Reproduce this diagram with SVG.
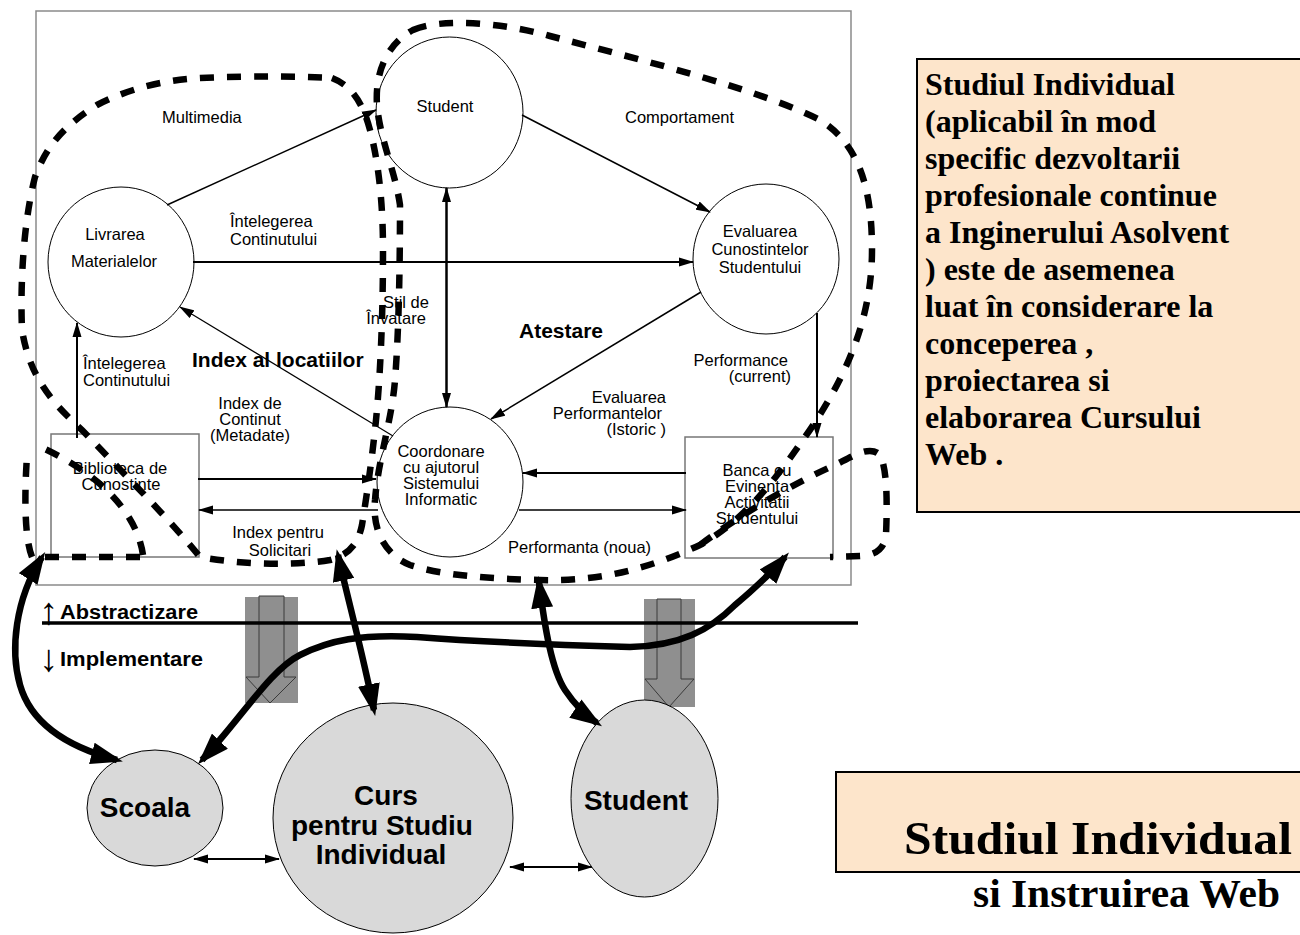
<svg xmlns="http://www.w3.org/2000/svg" width="1300" height="935" viewBox="0 0 1300 935">
<defs>
<marker id="a" markerUnits="userSpaceOnUse" markerWidth="15" markerHeight="10" refX="14" refY="5" orient="auto-start-reverse"><path d="M0,0.5 L15,5 L0,9.5 z" fill="#000"/></marker>
<marker id="A" markerUnits="userSpaceOnUse" markerWidth="32" markerHeight="22" refX="26" refY="11" orient="auto-start-reverse"><path d="M0,0 L32,11 L0,22 z" fill="#000"/></marker>
</defs>
<style>
.lbl{font-family:"Liberation Sans",Arial,sans-serif;font-size:16.5px;fill:#000}
.c{text-anchor:middle}
.r{text-anchor:end}
.b{font-weight:bold;font-size:21px}
.node{fill:#fff;stroke:#000;stroke-width:1}
.box{fill:none;stroke:#777;stroke-width:1.5}
.frame{fill:none;stroke:#8a8a8a;stroke-width:1.5}
.ln{stroke:#000;fill:none;marker-end:url(#a)}
.both{marker-start:url(#a)}
.dash{fill:none;stroke:#000;stroke-width:6.5;stroke-dasharray:14 13}
.thick{fill:none;stroke:#000;stroke-width:6.5;marker-start:url(#A);marker-end:url(#A)}
.gray{fill:#8f8f8f}
.garrow{fill:#8f8f8f;stroke:#3a3a3a;stroke-width:1}
.bn{fill:#d9d9d9;stroke:#000;stroke-width:1}
.bt{font-family:"Liberation Sans",Arial,sans-serif;font-weight:bold;font-size:28px;text-anchor:middle;fill:#000}
.note{fill:#fde5cb;stroke:#000;stroke-width:2}
.serif{font-family:"Liberation Serif","Times New Roman",serif;font-weight:bold;fill:#000}
.arr{font-family:"Liberation Sans",Arial,sans-serif;font-size:38px;fill:#000}
.lay{font-family:"Liberation Sans",Arial,sans-serif;font-weight:bold;font-size:20px;fill:#000}
</style>

<rect class="frame" x="36" y="11" width="815" height="574"/>

<g id="student">
<ellipse class="node" cx="449.5" cy="112.5" rx="73.5" ry="75.5"/>
<text class="lbl c" x="445" y="112">Student</text>
</g>
<g id="livrarea">
<ellipse class="node" cx="121" cy="262" rx="73" ry="75"/>
<text class="lbl c" x="115" y="240">Livrarea</text>
<text class="lbl c" x="114" y="267">Materialelor</text>
</g>
<g id="evaluarea">
<ellipse class="node" cx="766" cy="259" rx="73" ry="75"/>
<text class="lbl c" x="760" y="237">Evaluarea</text>
<text class="lbl c" x="760" y="255">Cunostintelor</text>
<text class="lbl c" x="760" y="273">Studentului</text>
</g>
<g id="coordonare">
<ellipse class="node" cx="450" cy="482" rx="73" ry="75"/>
<text class="lbl c" x="441" y="457">Coordonare</text>
<text class="lbl c" x="441" y="473">cu ajutorul</text>
<text class="lbl c" x="441" y="489">Sistemului</text>
<text class="lbl c" x="441" y="505">Informatic</text>
</g>
<g id="biblioteca">
<rect class="box" x="51" y="434" width="148" height="123"/>
<text class="lbl c" x="120" y="474">Biblioteca de</text>
<text class="lbl c" x="121" y="490">Cunostinte</text>
</g>
<g id="banca">
<rect class="box" x="685" y="437" width="148" height="121"/>
<text class="lbl c" x="757" y="476">Banca cu</text>
<text class="lbl c" x="757" y="492">Evinenta</text>
<text class="lbl c" x="757" y="508">Activitatii</text>
<text class="lbl c" x="757" y="524">Studentului</text>
</g>

<g id="connectors">
<path class="ln" stroke-width="1.5" d="M167,205 L376,110"/>
<path class="ln" stroke-width="1.5" d="M522,115 L710,212"/>
<path class="ln" stroke-width="2" d="M193,262 L693,262"/>
<path class="ln both" stroke-width="2.5" d="M446.5,188 L446.5,407"/>
<path class="ln" stroke-width="1.5" d="M701,292 L491,419"/>
<path class="ln" stroke-width="1.2" d="M393,436 L180,307"/>
<path class="ln" stroke-width="2" d="M77,438 L77,323"/>
<path class="ln" stroke-width="2" d="M198,479 L376,479"/>
<path class="ln" stroke-width="1.5" d="M378,510 L199,510"/>
<path class="ln" stroke-width="2" d="M686,473 L523,473"/>
<path class="ln" stroke-width="1.5" d="M519,510 L686,510"/>
<path class="ln" stroke-width="2" d="M817,313 L817,437"/>
<path class="ln both" stroke-width="2" d="M194,859 L279,859"/>
<path class="ln both" stroke-width="2" d="M510,867 L592,867"/>
</g>

<g id="labels">
<text class="lbl" x="162" y="123">Multimedia</text>
<text class="lbl" x="625" y="123">Comportament</text>
<text class="lbl" x="230" y="227">Întelegerea</text>
<text class="lbl" x="230" y="245">Continutului</text>
<text class="lbl c" x="406" y="308">Stil de</text>
<text class="lbl c" x="396" y="324">Învatare</text>
<text class="lbl b" x="192" y="367">Index al locatiilor</text>
<text class="lbl b" x="519" y="338">Atestare</text>
<text class="lbl" x="83" y="369">Întelegerea</text>
<text class="lbl" x="83" y="386">Continutului</text>
<text class="lbl c" x="250" y="409">Index de</text>
<text class="lbl c" x="250" y="425">Continut</text>
<text class="lbl c" x="250" y="441">(Metadate)</text>
<text class="lbl r" x="788" y="366">Performance</text>
<text class="lbl r" x="791" y="382">(current)</text>
<text class="lbl r" x="666" y="403">Evaluarea</text>
<text class="lbl r" x="662" y="419">Performantelor</text>
<text class="lbl r" x="666" y="435">(Istoric )</text>
<text class="lbl c" x="278" y="538">Index pentru</text>
<text class="lbl c" x="280" y="556">Solicitari</text>
<text class="lbl" x="508" y="553">Performanta (noua)</text>
</g>

<g id="regions">
<path class="dash" d="M332,78 C350,85 362,100 370,130 C378,160 383,200 383,250 C383,320 380,380 376,420 C372,460 366,500 362,525 C358,545 348,555 330,560 C300,565 250,566 200,557 C170,520 130,480 82,430 C55,405 30,380 22,330 C20,280 24,220 35,177 C45,150 60,128 97,105 C130,88 165,80 200,78 C250,76 300,76 332,78 Z"/>
<path class="dash" d="M143,555 C138,520 110,480 45,449"/>
<path class="dash" d="M140,557 L32,557 C25,540 24,500 27,456"/>
<path class="dash" d="M413,30 C440,18 500,22 550,36 C650,62 760,90 820,120 C860,145 872,190 872,250 C872,320 845,380 805,437 C775,480 745,520 700,545 C650,568 600,582 540,580 C490,579 440,575 410,565 C385,555 372,530 375,500 C378,460 392,420 395,380 C399,330 400,260 400,205 C395,170 380,140 377,105 C375,75 385,45 413,30 Z"/>
<path class="dash" d="M700,545 C740,515 790,485 835,465 C855,455 870,445 880,455 C888,470 887,510 886,535 C884,550 875,555 860,556 L830,557"/>
</g>

<g id="layers">
<rect class="gray" x="245" y="597" width="53" height="106"/>
<path class="garrow" d="M259,596 L284,596 L284,677 L296,677 L270,703 L246,677 L259,677 Z"/>
<rect class="gray" x="644" y="599" width="51" height="108"/>
<path class="garrow" d="M657,599 L681,599 L681,679 L694,679 L669,707 L645,679 L657,679 Z"/>
<line x1="42" y1="623" x2="858" y2="623" stroke="#000" stroke-width="3.5"/>
<text class="arr" x="39" y="624">↑</text>
<text class="lay" x="60" y="619" textLength="138" lengthAdjust="spacingAndGlyphs">Abstractizare</text>
<text class="arr" x="39" y="671">↓</text>
<text class="lay" x="60" y="666" textLength="143" lengthAdjust="spacingAndGlyphs">Implementare</text>
</g>

<g id="scoala">
<ellipse class="bn" cx="155" cy="808" rx="68" ry="58"/>
<text class="bt" x="145" y="817">Scoala</text>
</g>
<g id="curs">
<ellipse class="bn" cx="393" cy="818" rx="120" ry="115"/>
<text class="bt" x="386" y="805">Curs</text>
<text class="bt" x="382" y="835">pentru Studiu</text>
<text class="bt" x="381" y="864">Individual</text>
</g>
<g id="student2">
<ellipse class="bn" cx="644.5" cy="798.5" rx="73.5" ry="98.5"/>
<text class="bt" x="636" y="810">Student</text>
</g>

<g id="implementation-links">
<path class="thick" d="M42,557 C15,600 10,650 20,685 C30,720 60,745 117,760"/>
<path class="thick" d="M338,555 C348,600 362,650 374,710"/>
<path class="thick" d="M539,582 C545,630 552,670 565,690 C575,705 585,715 597,723"/>
<path class="thick" d="M202,760 C240,720 270,670 300,655 C330,640 360,634 417,637 C480,642 560,645 630,647 C680,646 710,630 735,605 C755,588 772,572 785,557"/>
</g>

<g id="note">
<rect class="note" x="917" y="59" width="400" height="453"/>
<text class="serif" font-size="32" x="925" y="95">Studiul Individual</text>
<text class="serif" font-size="32" x="925" y="132">(aplicabil în mod</text>
<text class="serif" font-size="32" x="925" y="169">specific dezvoltarii</text>
<text class="serif" font-size="32" x="925" y="206">profesionale continue</text>
<text class="serif" font-size="32" x="925" y="243">a Inginerului Asolvent</text>
<text class="serif" font-size="32" x="925" y="280">) este de asemenea</text>
<text class="serif" font-size="32" x="925" y="317">luat în considerare la</text>
<text class="serif" font-size="32" x="925" y="354">conceperea ,</text>
<text class="serif" font-size="32" x="925" y="391">proiectarea si</text>
<text class="serif" font-size="32" x="925" y="428">elaborarea Cursului</text>
<text class="serif" font-size="32" x="925" y="465">Web .</text>
</g>

<g id="title">
<rect class="note" x="836" y="772" width="480" height="100"/>
<text class="serif" font-size="47" x="904" y="854" textLength="388" lengthAdjust="spacingAndGlyphs">Studiul Individual</text>
<text class="serif" font-size="41" x="973" y="907" textLength="307" lengthAdjust="spacingAndGlyphs">si Instruirea Web</text>
</g>
</svg>
